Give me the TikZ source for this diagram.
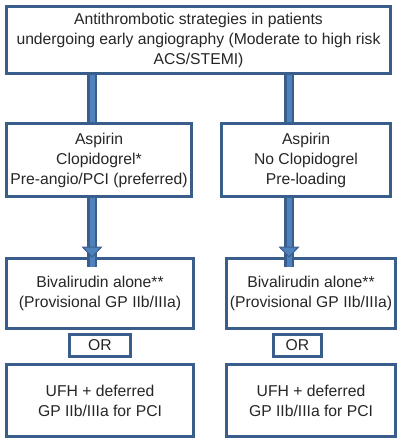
\documentclass[tikz,border=0pt]{standalone}
\usepackage{fontspec}
\setmainfont{Liberation Sans}
\definecolor{edgeblue}{HTML}{3A5E8C}
\definecolor{fillblue}{HTML}{4F81BD}
\tikzset{
  box/.style={draw=edgeblue, line width=3pt, fill=white, align=center,
    text=black!85, font=\fontsize{15.7}{20}\selectfont, inner sep=0pt},
  shaft/.style={draw=edgeblue, line width=2.5pt, double=fillblue, double distance=5pt},
  head/.style={draw=edgeblue, line width=1pt, fill=fillblue, line join=miter}
}
\begin{document}
\begin{tikzpicture}[x=1pt, y=-1pt]
    \useasboundingbox (0,0) rectangle (403,445);

    % x positions of the two arrows
    \coordinate (cl) at (92,0);
    \coordinate (cr) at (289,0);

    \node[box, minimum width=384pt, minimum height=67pt] (top) at (198.5,40)
      {Antithrombotic strategies in patients\\undergoing early angiography (Moderate to high risk\\ACS/STEMI)};

    \node[box, minimum width=185pt, minimum height=73pt] (clop) at (99,160)
      {Aspirin\\Clopidogrel*\\Pre-angio/PCI (preferred)};
    \node[box, minimum width=169pt, minimum height=73pt] (noclop) at (306,160)
      {Aspirin\\No Clopidogrel\\Pre-loading};

    \node[box, minimum width=187pt, minimum height=70pt] (bivl) at (100,293.5)
      {Bivalirudin alone**\\(Provisional GP IIb/IIIa)};
    \node[box, minimum width=169pt, minimum height=70pt] (bivr) at (311,293.5)
      {Bivalirudin alone**\\(Provisional GP IIb/IIIa)};

    \node[box, minimum width=61pt, minimum height=22pt] (orl) at (100,345.5) {OR};
    \node[box, minimum width=48pt, minimum height=22pt] (orr) at (297.5,345.5) {OR};

    \node[box, minimum width=187pt, minimum height=72pt] (ufhl) at (100,400.5)
      {UFH + deferred\\GP IIb/IIIa for PCI};
    \node[box, minimum width=169pt, minimum height=72pt] (ufhr) at (311,400.5)
      {UFH + deferred\\GP IIb/IIIa for PCI};

    % top box to the two strategies
    \draw[shaft] (top.south -| cl) -- (clop.north -| cl);
    \draw[shaft] (top.south -| cr) -- (noclop.north -| cr);

    % strategies to bivalirudin
    \draw[shaft] (clop.south -| cl) -- ([yshift=-10pt]bivl.north -| cl);
    \draw[head] (bivl.north -| cl) -- ++(-9.5,-10) -- ++(19,0) -- cycle;
    \draw[shaft] (noclop.south -| cr) -- ([yshift=-10pt]bivr.north -| cr);
    \draw[head] (bivr.north -| cr) -- ++(-9.5,-10) -- ++(19,0) -- cycle;
  \end{tikzpicture}
\end{document}
